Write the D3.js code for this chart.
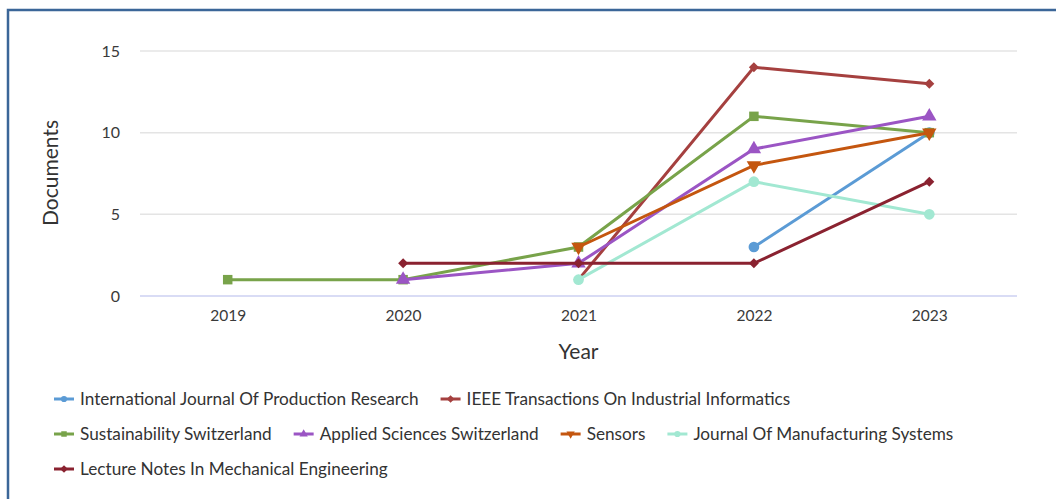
<!DOCTYPE html>
<html>
<head>
<meta charset="utf-8">
<script src="https://cdn.jsdelivr.net/npm/d3@7"></script>
<style>
  body { margin: 0; background: #fff; }
  svg { display: block; font-family: Lato, "Open Sans", sans-serif; }
</style>
</head>
<body>
<div id="chart"></div>
<script>
// years on the x axis
var years = ["2019", "2020", "2021", "2022", "2023"];
var yTicks = [0, 5, 10, 15];

// one array per source title, null where there is no point
var intJournalProdResearch = [null, null, null, 3, 10];
var ieeeIndustrialInformatics = [null, null, 1, 14, 13];
var sustainabilitySwitzerland = [1, 1, 3, 11, 10];
var appliedSciencesSwitzerland = [null, 1, 2, 9, 11];
var sensors = [null, null, 3, 8, 10];
var journalManufacturingSystems = [null, null, 1, 7, 5];
var lectureNotesMechEng = [null, 2, 2, 2, 7];

var seriesNames = [
  "International Journal Of Production Research",
  "IEEE Transactions On Industrial Informatics",
  "Sustainability Switzerland",
  "Applied Sciences Switzerland",
  "Sensors",
  "Journal Of Manufacturing Systems",
  "Lecture Notes In Mechanical Engineering"
];
var seriesValues = [intJournalProdResearch, ieeeIndustrialInformatics, sustainabilitySwitzerland,
  appliedSciencesSwitzerland, sensors, journalManufacturingSystems, lectureNotesMechEng];
var colors = ["#5b9bd5", "#a5403f", "#78a34a", "#9b55c4", "#c4560f", "#a2e8d2", "#8a2230"];
var shapes = ["circle", "diamond", "square", "triangle", "triangleDown", "circle", "diamond"];
// legend rows as in the original
var legendRows = [[0, 1], [2, 3, 4, 5], [6]];

var W = 1056, H = 499;
var margin = {top: 51, right: 39, bottom: 203, left: 140},
    width = W - margin.left - margin.right,
    height = H - margin.top - margin.bottom;

var svg = d3.select("#chart").append("svg")
    .attr("width", W)
    .attr("height", H);

// frame (only left and top edges are in view)
svg.append("path")
    .attr("d", "M8,499 L8,10 L1056,10")
    .attr("fill", "none")
    .attr("stroke", "#3b6698")
    .attr("stroke-width", 2.5);

var g = svg.append("g")
    .attr("transform", "translate(" + margin.left + "," + margin.top + ")");

var x = d3.scalePoint()
    .domain(years)
    .range([0, width])
    .padding(0.5);

var y = d3.scaleLinear()
    .domain([0, 15])
    .range([height, 0]);

// grid
g.selectAll(".grid")
  .data(yTicks)
  .enter().append("line")
    .attr("x1", 0).attr("x2", width)
    .attr("y1", function(d) { return y(d); })
    .attr("y2", function(d) { return y(d); })
    .attr("stroke", function(d) { return d == 0 ? "#ccd0f2" : "#e4e4e4"; })
    .attr("stroke-width", 1.5);

// y axis labels
var yAxis = g.append("g")
    .call(d3.axisLeft(y).tickValues(yTicks).tickSize(0).tickPadding(20));
yAxis.select(".domain").remove();
yAxis.selectAll("text")
    .attr("font-family", "Lato, 'Open Sans', sans-serif")
    .attr("font-size", 16)
    .attr("fill", "#3a3a3a");

// x axis labels
var xAxis = g.append("g")
    .attr("transform", "translate(0," + height + ")")
    .call(d3.axisBottom(x).tickSize(0).tickPadding(14));
xAxis.select(".domain").remove();
xAxis.selectAll("text")
    .attr("font-family", "Lato, 'Open Sans', sans-serif")
    .attr("font-size", 15.5)
    .attr("fill", "#3a3a3a");

// axis titles
svg.append("text")
    .attr("transform", "translate(58,173) rotate(-90)")
    .attr("text-anchor", "middle")
    .attr("font-size", 21)
    .attr("fill", "#333")
    .text("Documents");

svg.append("text")
    .attr("x", margin.left + x("2021"))
    .attr("y", 359)
    .attr("text-anchor", "middle")
    .attr("font-size", 21)
    .attr("fill", "#333")
    .text("Year");

function symbolPath(shape, size) {
  var t = {circle: d3.symbolCircle, diamond: d3.symbolSquare, square: d3.symbolSquare,
           triangle: d3.symbolTriangle, triangleDown: d3.symbolTriangle}[shape];
  return d3.symbol().type(t).size(size)();
}
function symbolRotate(shape) {
  if (shape == "triangleDown") return " rotate(180)";
  if (shape == "diamond") return " rotate(45)";
  return "";
}

var line = d3.line()
    .defined(function(d) { return d.v != null; })
    .x(function(d) { return x(d.year); })
    .y(function(d) { return y(d.v); });

seriesValues.forEach(function(vals, i) {
  var pts = vals.map(function(v, j) { return {year: years[j], v: v}; });
  var sg = g.append("g");
  sg.append("path")
      .datum(pts)
      .attr("fill", "none")
      .attr("stroke", colors[i])
      .attr("stroke-width", 3)
      .attr("d", line);
  sg.selectAll("path.mark")
    .data(pts.filter(function(d) { return d.v != null; }))
    .enter().append("path")
      .attr("class", "mark")
      .attr("d", symbolPath(shapes[i], shapes[i] == "diamond" ? 50 : 90))
      .attr("transform", function(d) {
        return "translate(" + x(d.year) + "," + y(d.v) + ")" + symbolRotate(shapes[i]);
      })
      .attr("fill", colors[i]);
});

// legend
var legend = svg.append("g");
legendRows.forEach(function(row, r) {
  var lx = 54, ly = 399 + r * 35;
  row.forEach(function(i) {
    var item = legend.append("g")
        .attr("transform", "translate(" + lx + "," + ly + ")");
    item.append("line")
        .attr("x1", 0).attr("x2", 20)
        .attr("stroke", colors[i])
        .attr("stroke-width", 3);
    item.append("path")
        .attr("d", symbolPath(shapes[i], 30))
        .attr("transform", "translate(10,0)" + symbolRotate(shapes[i]))
        .attr("fill", colors[i]);
    var txt = item.append("text")
        .attr("x", 26)
        .attr("dy", "0.35em")
        .attr("font-size", 17.2)
        .attr("fill", "#333")
        .text(seriesNames[i]);
    lx += 26 + txt.node().getComputedTextLength() + 22;
  });
});
</script>
</body>
</html>
